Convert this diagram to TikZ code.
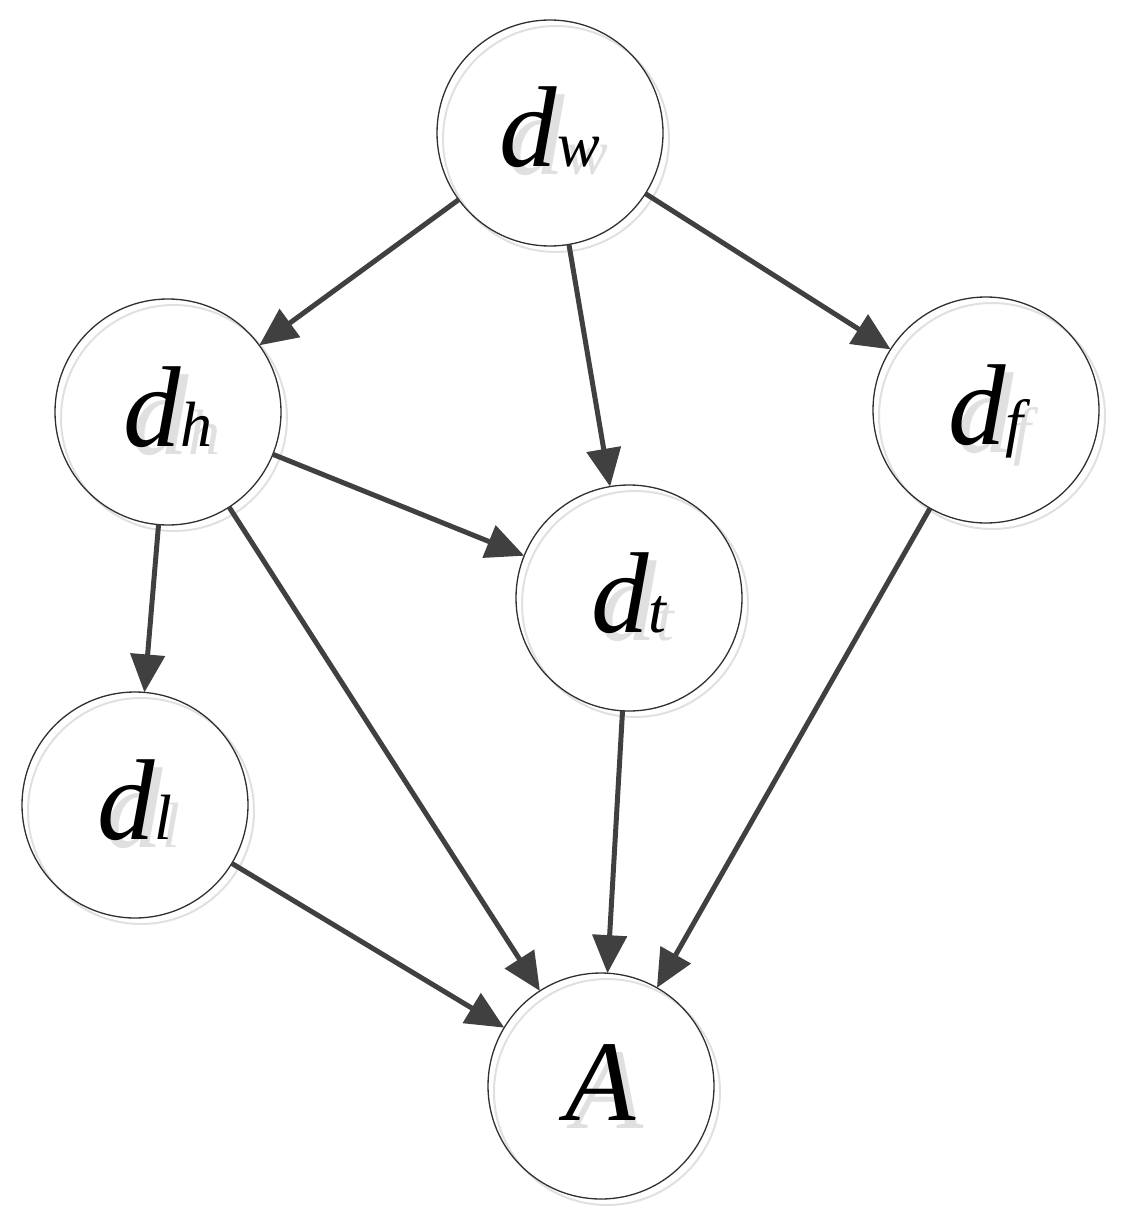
\documentclass[tikz,border=0pt]{standalone}
\usepackage{fontspec}
\setmainfont{Liberation Serif}
\usetikzlibrary{arrows.meta}
\definecolor{arr}{HTML}{404040}
\definecolor{shad}{HTML}{E0E0E0}
\definecolor{rim}{HTML}{303030}
\newcommand{\lab}[2]{{\fontsize{115}{115}\selectfont\itshape #1}{\fontsize{64}{64}\selectfont\itshape #2}}
\tikzset{
  basecirc/.style={circle, minimum size=226pt, inner sep=0pt, outer sep=0pt,
    text height=68pt, text depth=0pt},
  circ/.style={basecirc, draw=rim, line width=1.3pt, text=black},
  shcirc/.style={basecirc, draw=shad, line width=2pt},
  shtext/.style={basecirc, text=shad},
  edge/.style={draw=arr, line width=5pt, -{Triangle[length=38pt,width=34pt]}}
}
\newcommand{\gnode}[4]{%
  \node[shcirc, xshift=6pt, yshift=-6pt] (#1s) at (#2,#3) {};
  \node[shtext, xshift=8pt, yshift=-8pt] (#1t) at (#2,#3) {#4};
  \node[circ] (#1) at (#2,#3) {#4};
}
\begin{document}
\begin{tikzpicture}[x=1pt,y=-1pt]
\useasboundingbox (0,0) rectangle (1130,1225);
\gnode{dw}{550}{133}{\lab{d}{w}}
\gnode{dh}{168}{412}{\lab{d}{h}}
\gnode{df}{986}{410}{\lab{d}{f}}
\gnode{dt}{629}{598}{\lab{d}{t}}
\gnode{dl}{135}{805}{\lab{d}{l}}
\gnode{A}{601}{1086}{\lab{A}{}}
\draw[edge] (dw) -- (dh);
\draw[edge] (dw) -- (dt);
\draw[edge] (dw) -- (df);
\draw[edge] (dh) -- (dt);
\draw[edge] (dh) -- (dl);
\draw[edge] (dh) -- (A);
\draw[edge] (dt) -- (A);
\draw[edge] (df) -- (A);
\draw[edge] (dl) -- (A);
\end{tikzpicture}
\end{document}
